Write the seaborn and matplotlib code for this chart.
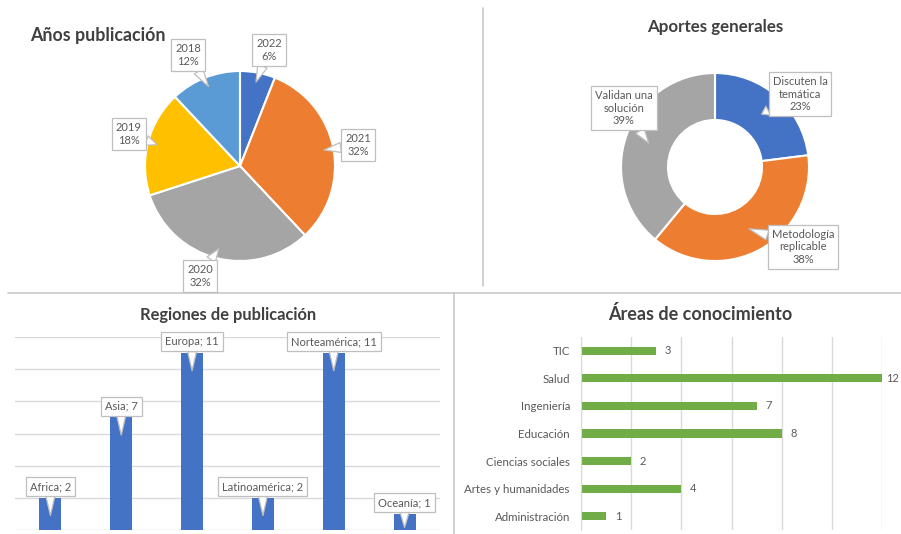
import numpy as np
import matplotlib
matplotlib.use("Agg")
import matplotlib.pyplot as plt
import seaborn as sns

# ---------------- data ----------------
years = ["2022", "2021", "2020", "2019", "2018"]
years_pct = [6, 32, 32, 18, 12]

aportes = ["Discuten la\ntemática", "Metodología\nreplicable", "Validan una\nsolución"]
aportes_pct = [23, 38, 39]

regions = ["Africa", "Asia", "Europa", "Latinoamérica", "Norteamérica", "Oceanía"]
region_counts = [2, 7, 11, 2, 11, 1]

areas = ["TIC", "Salud", "Ingeniería", "Educación", "Ciencias sociales",
         "Artes y humanidades", "Administración"]
area_counts = [3, 12, 7, 8, 2, 4, 1]

# ---------------- style ----------------
sns.set_style("white")
plt.rcParams['font.family'] = ['Lato', 'DejaVu Sans']

W, H = 901, 534
fig = plt.figure(figsize=(W / 100, H / 100), dpi=100)
fig.patch.set_facecolor("white")

TXT = "#595959"
TITLE = "#404040"
BOXEC = "#bfbfbf"
GRID = "#d9d9d9"

pie_colors = ["#4472C4", "#ED7D31", "#A5A5A5", "#FFC000", "#5B9BD5"]
donut_colors = ["#4472C4", "#ED7D31", "#A5A5A5"]

canvas = fig.add_axes([0, 0, 1, 1])
canvas.set_facecolor("none")


def cy(py):
    return H - py


def callout(ax, text, xy, xytext, fs=8, coords="data", tw=0.9):
    ax.annotate(text, xy=xy, xytext=xytext, xycoords=coords, textcoords=coords,
                ha="center", va="center", fontsize=fs, color=TXT, linespacing=1.2,
                bbox=dict(boxstyle="square,pad=0.35", fc="white", ec=BOXEC, lw=0.9),
                arrowprops=dict(arrowstyle=f"wedge,tail_width={tw},shrink_factor=0.5",
                                fc="white", ec=BOXEC, lw=0.9, shrinkA=0, shrinkB=0),
                annotation_clip=False)


# ---------------- pie: Años publicación ----------------
pc = (240, cy(166))
pr = 95
canvas.pie(years_pct, colors=pie_colors, startangle=90, counterclock=False,
           center=pc, radius=pr, frame=True,
           wedgeprops=dict(edgecolor="white", linewidth=1.5))
pie_label_pos = [(269, 50), (358, 145), (200, 276), (129, 134), (188, 55)]
cum = 0
for lab, v, (bx, by) in zip(years, years_pct, pie_label_pos):
    mid = np.deg2rad((cum + v / 2) / 100 * 360)
    cum += v
    tip = (pc[0] + 0.9 * pr * np.sin(mid), pc[1] + 0.9 * pr * np.cos(mid))
    callout(canvas, f"{lab}\n{v}%", tip, (bx, cy(by)))

canvas.text(30, cy(35), "Años publicación", fontsize=12.8, fontweight="bold",
            color=TITLE, ha="left", va="center")

# ---------------- donut: Aportes generales ----------------
dc = (715, cy(167))
dr = 94
canvas.pie(aportes_pct, colors=donut_colors, startangle=90, counterclock=False,
           center=dc, radius=dr, frame=True,
           wedgeprops=dict(width=dr * 0.5, edgecolor="white", linewidth=1.5))
donut_label_pos = [(800, 94), (803, 247), (624, 108)]
cum = 0
for lab, v, (bx, by) in zip(aportes, aportes_pct, donut_label_pos):
    mid = np.deg2rad((cum + v / 2) / 100 * 360)
    cum += v
    tip = (dc[0] + 0.75 * dr * np.sin(mid), dc[1] + 0.75 * dr * np.cos(mid))
    callout(canvas, f"{lab}\n{v}%", tip, (bx, cy(by)))

canvas.text(715, cy(27), "Aportes generales", fontsize=12.2, fontweight="bold",
            color=TITLE, ha="center", va="center")

# ---------------- dividers ----------------
canvas.plot([483, 483], [cy(8), cy(286)], color="#c8c8c8", lw=1.2)
canvas.plot([8, 901], [cy(293), cy(293)], color="#c8c8c8", lw=1.2)
canvas.plot([454, 454], [cy(293), cy(534)], color="#c8c8c8", lw=1.2)

canvas.text(228, cy(315), "Regiones de publicación", fontsize=11.9, fontweight="bold",
            color=TITLE, ha="center", va="center")
canvas.text(700, cy(314), "Áreas de conocimiento", fontsize=13, fontweight="bold",
            color=TITLE, ha="center", va="center")

canvas.set_xlim(0, W)
canvas.set_ylim(0, H)
canvas.axis("off")

# ---------------- bars: Regiones de publicación ----------------
ax1 = fig.add_axes([15 / W, 4 / H, 425 / W, 193 / H])
ax1.set_facecolor("none")
sns.barplot(x=regions, y=region_counts, color="#4472C4", width=0.31, saturation=1,
            ax=ax1, linewidth=0)
ax1.set_ylim(0, 12)
ax1.set_xlim(-0.5, len(regions) - 0.5)
ax1.set_yticks(np.arange(0, 13, 2))
ax1.set_axisbelow(True)
ax1.yaxis.grid(True, color=GRID, lw=1)
ax1.set_xticks([])
ax1.tick_params(left=False, labelleft=False)
ax1.set_xlabel("")
ax1.set_ylabel("")
for s in ax1.spines.values():
    s.set_visible(False)
for i, (r, v) in enumerate(zip(regions, region_counts)):
    callout(ax1, f"{r}; {v}", (i, max(v - 1.1, 0.15)), (i, v + 0.7), fs=8, tw=0.8)

# ---------------- bars: Áreas de conocimiento ----------------
ax2 = fig.add_axes([581 / W, 4 / H, 301 / W, 193 / H])
ax2.set_facecolor("none")
sns.barplot(x=area_counts, y=areas, orient="h", color="#70AD47", width=0.3,
            saturation=1, ax=ax2, linewidth=0)
ax2.set_xlim(0, 12)
ax2.set_ylim(len(areas) - 0.5, -0.5)
ax2.set_xticks(np.arange(0, 13, 2))
ax2.set_axisbelow(True)
ax2.xaxis.grid(True, color=GRID, lw=1)
ax2.tick_params(bottom=False, labelbottom=False)
ax2.tick_params(axis="y", length=0, labelsize=8.3, labelcolor=TXT, pad=8)
ax2.set_yticks(np.arange(len(areas) + 1) - 0.5, minor=True)
ax2.tick_params(axis="y", which="minor", length=4, color=GRID)
ax2.set_xlabel("")
ax2.set_ylabel("")
for k, s in ax2.spines.items():
    s.set_visible(k == "left")
ax2.spines["left"].set_color(GRID)
for i, v in enumerate(area_counts):
    ax2.text(min(v + 0.35, 12.15), i, str(v), ha="left", va="center", fontsize=8,
             color=TXT, clip_on=False)

fig.savefig("out.png", dpi=100, facecolor="white")
